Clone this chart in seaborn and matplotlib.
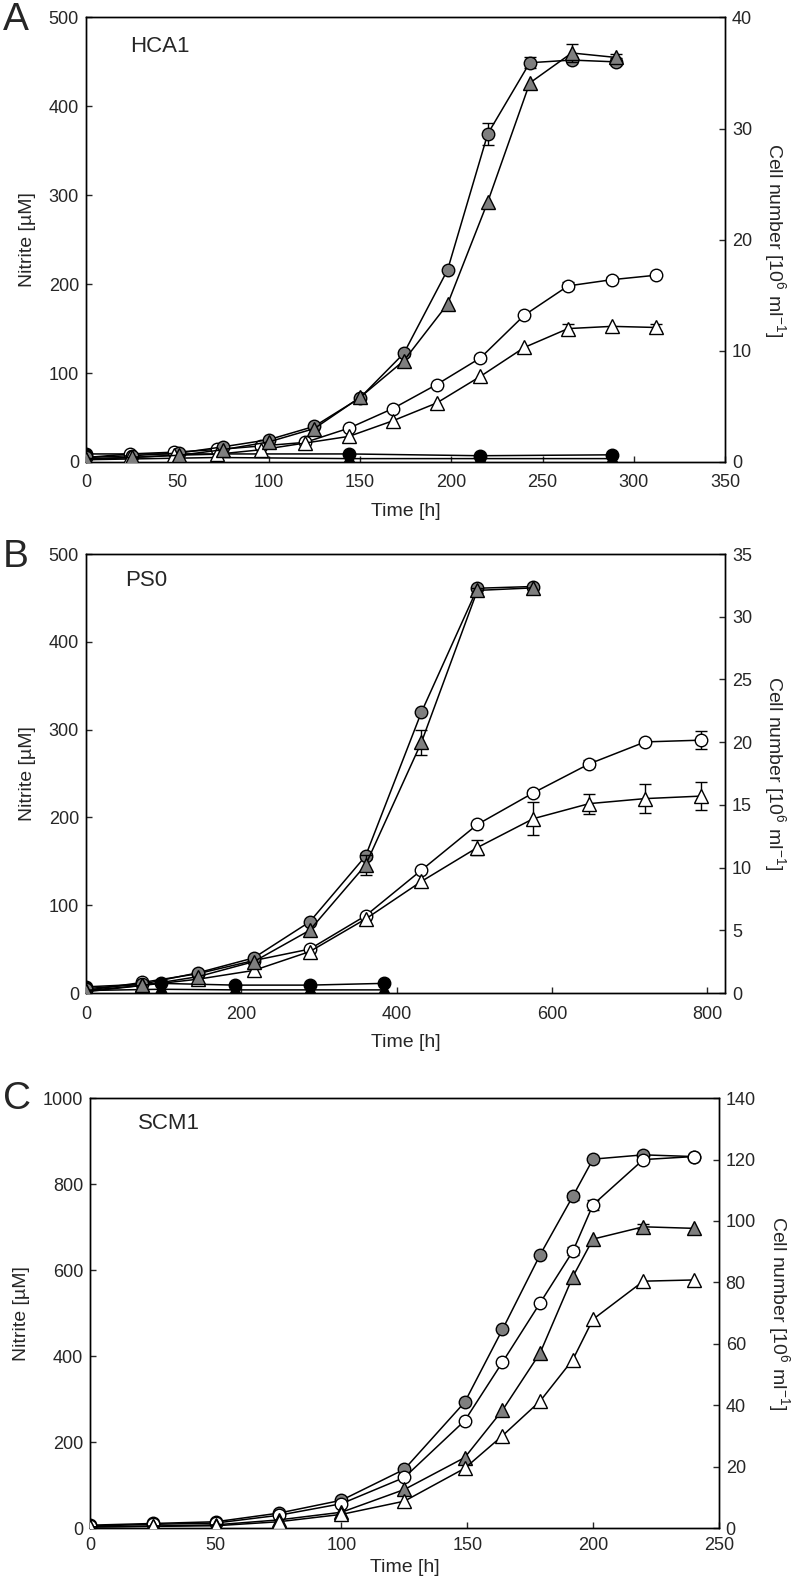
import matplotlib
matplotlib.use("Agg")
import matplotlib.pyplot as plt
import numpy as np
import seaborn as sns

# ---- panel A: HCA1 ----
a_t_gray = [0, 25, 51, 75, 100, 125, 150, 174, 198, 220, 243, 266, 290]
a_t_open = [0, 24, 48, 72, 96, 120, 144, 168, 192, 216, 240, 264, 288, 312]
a_nitrite_gray = [5, 7, 10, 17, 25, 40, 72, 122, 216, 369, 449, 452, 450]
a_nitrite_gray_err = [0, 0, 0, 0, 0, 0, 0, 3, 0, 12, 6, 0, 4]
a_cells_gray = [0.3, 0.4, 0.6, 1.1, 1.8, 3.0, 5.8, 9.1, 14.2, 23.4, 34.1, 36.8, 36.4]
a_cells_gray_err = [0, 0, 0, 0, 0, 0, 0, 0, 0, 0, 0, 0.8, 0.3]
a_nitrite_open = [5, 9, 11, 14, 18, 22, 38, 60, 87, 117, 165, 198, 205, 210]
a_nitrite_open_err = [0, 0, 0, 0, 0, 0, 0, 0, 0, 3, 0, 4, 3, 0]
a_cells_open = [0.2, 0.4, 0.6, 0.7, 1.1, 1.7, 2.3, 3.7, 5.3, 7.7, 10.3, 12.0, 12.2, 12.1]
a_cells_open_err = [0, 0, 0, 0, 0, 0, 0, 0, 0, 0, 0, 0.4, 0, 0.3]
a_t_ctrl_nitrite = [0, 144, 216, 288]
a_nitrite_ctrl = [9, 9, 7, 8]
a_t_ctrl_cells = [0, 72, 144, 216, 288]
a_cells_ctrl = [0.2, 0.4, 0.3, 0.3, 0.3]

# ---- panel B: PS0 ----
b_t_gray = [0, 72, 144, 216, 288, 360, 432, 504, 576]
b_t_open = [0, 72, 144, 216, 288, 360, 432, 504, 576, 648, 720, 792]
b_nitrite_gray = [5, 10, 23, 40, 81, 156, 320, 461, 463]
b_nitrite_gray_err = [0, 0, 0, 0, 0, 3, 0, 0, 0]
b_cells_gray = [0.2, 0.6, 1.3, 2.5, 5.0, 10.2, 20.0, 32.1, 32.3]
b_cells_gray_err = [0, 0, 0, 0, 0, 0.8, 1.0, 0.2, 0]
b_nitrite_open = [3, 12, 22, 37, 50, 88, 140, 192, 228, 261, 286, 288]
b_nitrite_open_err = [0, 0, 0, 0, 0, 0, 0, 0, 3, 4, 0, 10]
b_cells_open = [0.1, 0.6, 1.1, 1.8, 3.3, 5.9, 8.9, 11.6, 13.9, 15.1, 15.5, 15.7]
b_cells_open_err = [0, 0, 0, 0, 0, 0, 0, 0.6, 1.3, 0.8, 1.15, 1.1]
b_t_ctrl = [0, 96, 192, 288, 384]
b_nitrite_ctrl = [7, 11, 9, 9, 11]
b_cells_ctrl = [0.2, 0.3, 0.25, 0.25, 0.25]

# ---- panel C: SCM1 ----
c_t = [0, 25, 50, 75, 100, 125, 149, 164, 179, 192, 200, 220, 240]
c_nitrite_gray = [7, 11, 15, 35, 65, 137, 293, 462, 636, 772, 858, 868, 864]
c_nitrite_gray_err = [0, 0, 0, 0, 0, 0, 0, 0, 0, 8, 0, 0, 0]
c_nitrite_open = [5, 9, 12, 30, 57, 118, 250, 386, 524, 644, 752, 857, 864]
c_nitrite_open_err = [0, 0, 0, 0, 0, 0, 0, 0, 0, 10, 12, 0, 0]
c_cells_gray = [0.4, 0.7, 1.1, 2.7, 5.2, 12.6, 23.0, 38.4, 57.1, 81.9, 94.1, 98.1, 97.6]
c_cells_gray_err = [0, 0, 0, 0, 0, 0, 0, 0, 0, 0, 0, 0.8, 0]
c_cells_open = [0.4, 0.6, 0.8, 2.1, 4.5, 8.8, 19.5, 30.1, 41.4, 54.9, 68.0, 80.4, 80.8]
c_cells_open_err = [0, 0, 0, 0, 0, 0, 0, 0, 0, 0, 0, 0, 0]

sns.set_style("ticks")
plt.rcParams["font.family"] = ["Liberation Sans", "DejaVu Sans"]
plt.rcParams["mathtext.fontset"] = "custom"
plt.rcParams["mathtext.rm"] = "Liberation Sans"
plt.rcParams["mathtext.it"] = "Liberation Sans"

GRAY = "#7f7f7f"


def series(ax, x, y, err, marker, face, size):
    x = np.asarray(x, dtype=float)
    y = np.asarray(y, dtype=float)
    if err is not None:
        err = np.asarray(err, dtype=float)
        m = err > 0
        if m.any():
            ax.errorbar(x[m], y[m], yerr=err[m], fmt="none", ecolor="black",
                        elinewidth=1.0, capsize=4, capthick=1.0, zorder=2)
    sns.lineplot(x=x, y=y, ax=ax, color="black", linewidth=1.1,
                 marker=marker, markersize=size, markerfacecolor=face,
                 markeredgecolor="black", markeredgewidth=1.0, zorder=3)


def panel(rect, title, title_pos, xlim, xticks, ylim, yticks, y2lim, y2ticks,
          xpad=9, xlabelpad=8):
    ax = fig.add_axes(rect)
    ax2 = ax.twinx()
    ax.set_xlim(*xlim)
    ax.set_xticks(xticks)
    ax.set_ylim(*ylim)
    ax.set_yticks(yticks)
    ax2.set_ylim(*y2lim)
    ax2.set_yticks(y2ticks)
    for a in (ax, ax2):
        a.tick_params(direction="in", length=4, width=1, labelsize=13, pad=5)
        for s in a.spines.values():
            s.set_visible(True)
            s.set_linewidth(1.0)
            s.set_color("black")
    ax.tick_params(axis="x", pad=xpad)
    ax.set_xlabel("Time [h]", fontsize=14, labelpad=xlabelpad)
    ax.set_ylabel("Nitrite [µM]", fontsize=14, labelpad=9)
    ax2.set_ylabel(r"Cell number [10$^{6}$ ml$^{-1}$]", fontsize=14,
                   rotation=270, labelpad=26)
    ax.text(title_pos[0], title_pos[1], title, transform=ax.transAxes,
            fontsize=16, va="center", ha="left")
    return ax, ax2


fig = plt.figure(figsize=(7.96, 15.82), dpi=100)

# panel A
ax, ax2 = panel([0.108, 0.708, 0.803, 0.281], "HCA1", (0.069, 0.935),
                (0, 350), range(0, 351, 50), (0, 500), range(0, 501, 100),
                (0, 40), range(0, 41, 10))
series(ax, a_t_ctrl_nitrite, a_nitrite_ctrl, None, "o", "black", 9)
series(ax2, a_t_ctrl_cells, a_cells_ctrl, None, "^", "black", 9.5)
series(ax, a_t_open, a_nitrite_open, a_nitrite_open_err, "o", "white", 9)
series(ax2, a_t_open, a_cells_open, a_cells_open_err, "^", "white", 9.5)
series(ax, a_t_gray, a_nitrite_gray, a_nitrite_gray_err, "o", GRAY, 9)
series(ax2, a_t_gray, a_cells_gray, a_cells_gray_err, "^", GRAY, 9.5)

# panel B
ax, ax2 = panel([0.108, 0.3723, 0.803, 0.2775], "PS0", (0.062, 0.94),
                (0, 823), range(0, 801, 200), (0, 500), range(0, 501, 100),
                (0, 35), range(0, 36, 5))
series(ax, b_t_ctrl, b_nitrite_ctrl, None, "o", "black", 9)
series(ax2, b_t_ctrl, b_cells_ctrl, None, "^", "black", 9.5)
series(ax, b_t_open, b_nitrite_open, b_nitrite_open_err, "o", "white", 9)
series(ax2, b_t_open, b_cells_open, b_cells_open_err, "^", "white", 9.5)
series(ax, b_t_gray, b_nitrite_gray, b_nitrite_gray_err, "o", GRAY, 9)
series(ax2, b_t_gray, b_cells_gray, b_cells_gray_err, "^", GRAY, 9.5)

# panel C
ax, ax2 = panel([0.113, 0.034, 0.790, 0.2719], "SCM1", (0.076, 0.94),
                (0, 250), range(0, 251, 50), (0, 1000), range(0, 1001, 200),
                (0, 140), range(0, 141, 20), xpad=6, xlabelpad=4)
series(ax, c_t, c_nitrite_gray, c_nitrite_gray_err, "o", GRAY, 9)
series(ax, c_t, c_nitrite_open, c_nitrite_open_err, "o", "white", 9)
series(ax2, c_t, c_cells_gray, c_cells_gray_err, "^", GRAY, 9.5)
series(ax2, c_t, c_cells_open, c_cells_open_err, "^", "white", 9.5)

for letter, ypx in (("A", 20), ("B", 557), ("C", 1099)):
    fig.text(0.004, 1 - ypx / 1582, letter, fontsize=28, va="center", ha="left")

fig.savefig("out.png", dpi=100)
